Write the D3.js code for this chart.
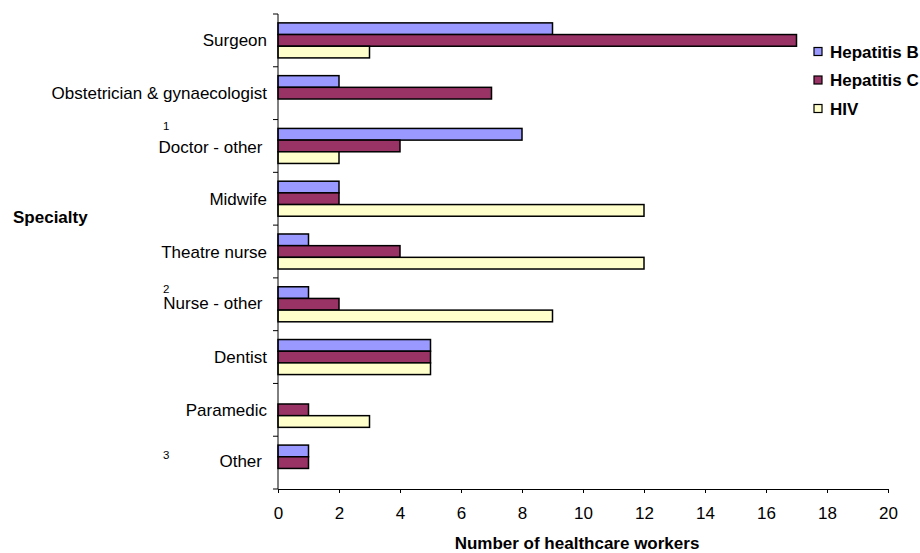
<!DOCTYPE html>
<html>
<head>
<meta charset="utf-8">
<script src="https://cdn.jsdelivr.net/npm/d3@7/dist/d3.min.js"></script>
<style>
  html, body { margin: 0; padding: 0; background: #fff; }
  svg { display: block; font-family: "Liberation Sans", Arial, sans-serif; }
</style>
</head>
<body>
<svg id="chart" width="920" height="553"></svg>
<script>
// Healthcare workers by specialty and infection
const specialties = [
  "Surgeon", "Obstetrician & gynaecologist", "Doctor - other", "Midwife",
  "Theatre nurse", "Nurse - other", "Dentist", "Paramedic", "Other"
];
const seriesNames = ["Hepatitis B", "Hepatitis C", "HIV"];
const hepatitisB = [9, 2, 8, 2, 1, 1, 5, 0, 1];
const hepatitisC = [17, 7, 4, 2, 4, 2, 5, 1, 1];
const hiv        = [3, 0, 2, 12, 12, 9, 5, 3, 0];
const xTicks = [0, 2, 4, 6, 8, 10, 12, 14, 16, 18, 20];
const footnotes = [
  { specialty: "Doctor - other", mark: "1" },
  { specialty: "Nurse - other", mark: "2" },
  { specialty: "Other", mark: "3" }
];
const xTitle = "Number of healthcare workers";
const yTitle = "Specialty";

const colors = ["#9999FF", "#993366", "#FFFFCC"];
const values = [hepatitisB, hepatitisC, hiv];

const svg = d3.select("#chart");
const plot = { left: 278, right: 888, top: 14, bottom: 489 };

const x = d3.scaleLinear().domain([0, 20]).range([plot.left, plot.right]);
const y = d3.scaleBand().domain(specialties).range([plot.top, plot.bottom]).padding(0);
const ySub = d3.scaleBand().domain(seriesNames).range([0, y.bandwidth()])
  .paddingInner(0).paddingOuter(0.76);

// Bars
const rows = specialties.map((s, i) => ({ s, vals: values.map(v => v[i]) }));
const groups = svg.append("g").selectAll("g").data(rows).join("g")
  .attr("transform", d => `translate(0,${y(d.s)})`);
groups.selectAll("rect")
  .data(d => d.vals.map((v, k) => ({ v, k })).filter(e => e.v > 0))
  .join("rect")
  .attr("x", x(0))
  .attr("y", e => ySub(seriesNames[e.k]))
  .attr("width", e => x(e.v) - x(0))
  .attr("height", ySub.bandwidth())
  .attr("fill", e => colors[e.k])
  .attr("stroke", "#000")
  .attr("stroke-width", 1.5);

// X axis
const xAxis = svg.append("g")
  .attr("transform", `translate(0,${plot.bottom})`)
  .call(d3.axisBottom(x).tickValues(xTicks).tickSize(4).tickSizeOuter(0).tickPadding(14));
xAxis.select(".domain").attr("stroke", "#000").attr("stroke-width", 1);
xAxis.selectAll(".tick line").attr("stroke", "#000");
xAxis.selectAll(".tick text").attr("font-size", 17).attr("fill", "#000")
  .attr("font-family", "Liberation Sans, Arial, sans-serif");

// Y axis: line with ticks at category boundaries
const yAxisG = svg.append("g");
yAxisG.append("line")
  .attr("x1", plot.left).attr("x2", plot.left)
  .attr("y1", plot.top).attr("y2", plot.bottom)
  .attr("stroke", "#000");
const boundaries = specialties.map(s => y(s)).concat([plot.bottom]);
yAxisG.selectAll("line.tk").data(boundaries).join("line").attr("class", "tk")
  .attr("x1", plot.left - 5).attr("x2", plot.left)
  .attr("y1", d => d).attr("y2", d => d)
  .attr("stroke", "#000");

// Category labels and footnote marks
const labelShift = { "Doctor - other": [4.5, 1.5], "Nurse - other": [4.5, -1.3], "Other": [5, -1.8] };
const markRise = { "Doctor - other": -23, "Nurse - other": -16, "Other": -8 };
svg.append("g").selectAll("text").data(specialties).join("text")
  .attr("x", s => 267 - (labelShift[s] ? labelShift[s][0] : 0))
  .attr("y", s => y(s) + y.bandwidth() / 2 + 6 + (labelShift[s] ? labelShift[s][1] : 0))
  .attr("text-anchor", "end")
  .attr("font-size", 17)
  .text(s => s);
svg.append("g").selectAll("text").data(footnotes).join("text")
  .attr("x", 163)
  .attr("y", f => y(f.specialty) + y.bandwidth() / 2 + 6 + labelShift[f.specialty][1] + markRise[f.specialty])
  .attr("font-size", 11.5)
  .text(f => f.mark);

// Axis titles
svg.append("text").attr("x", 13).attr("y", 223)
  .attr("font-size", 17).attr("font-weight", "bold").text(yTitle);
svg.append("text").attr("x", 577).attr("y", 549)
  .attr("text-anchor", "middle")
  .attr("font-size", 17).attr("font-weight", "bold").text(xTitle);

// Legend
const legend = svg.append("g").selectAll("g").data(seriesNames).join("g")
  .attr("transform", (d, i) => `translate(814,${47.5 + i * 28.5})`);
legend.append("rect")
  .attr("width", 8).attr("height", 8)
  .attr("fill", (d, i) => colors[i])
  .attr("stroke", "#000").attr("stroke-width", 1.2);
legend.append("text")
  .attr("x", 16).attr("y", 10)
  .attr("font-size", 17).attr("font-weight", "bold")
  .text(d => d);
</script>
</body>
</html>
